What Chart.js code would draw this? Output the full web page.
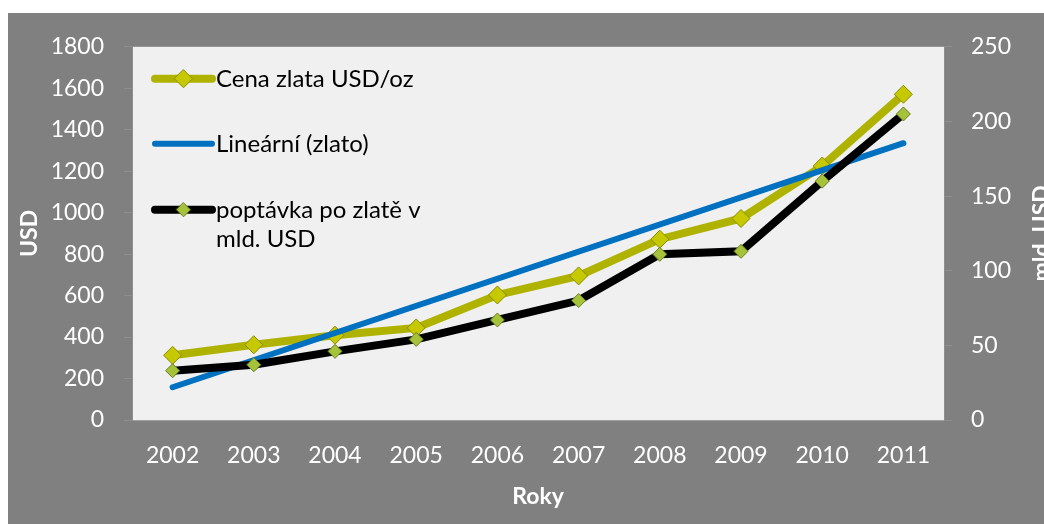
<!DOCTYPE html>
<html lang="cs">
<head>
<meta charset="UTF-8">
<title>Cena zlata</title>
<style>
  html, body { margin: 0; padding: 0; background: #fff; }
  .box {
    position: absolute;
    left: 8px;
    top: 13px;
    width: 1036px;
    height: 511px;
    background: #808080;
  }
</style>
</head>
<body>
<div class="box"><canvas id="chart" width="1036" height="511"></canvas></div>

<script src="https://cdn.jsdelivr.net/npm/chart.js"></script>
<script>
  // data
  const roky = ['2002', '2003', '2004', '2005', '2006', '2007', '2008', '2009', '2010', '2011'];
  const cenaZlata = [312, 363, 409, 444, 603, 695, 872, 972, 1225, 1571];   // USD/oz, levá osa
  const poptavka = [33, 37, 46, 54, 67, 80, 111, 113, 160, 205];             // mld. USD, pravá osa
  // lineární trend - jen krajní body, mezi nimi rovná čára
  const trendZlato = [158, null, null, null, null, null, null, null, null, 1335];
  const osaUsd = { min: 0, max: 1800, step: 200 };
  const osaMld = { min: 0, max: 250, step: 50 };

  const FONT = 'Lato, "Open Sans", sans-serif';
  Chart.defaults.font.family = FONT;
  Chart.defaults.font.size = 23;
  Chart.defaults.color = '#ffffff';

  // pozadí plochy grafu
  const pozadi = {
    id: 'pozadi',
    beforeDraw(chart) {
      const a = chart.chartArea;
      const ctx = chart.ctx;
      ctx.save();
      ctx.fillStyle = '#f0f0f0';
      ctx.fillRect(a.left, a.top, a.right - a.left, a.bottom - a.top);
      ctx.restore();
    }
  };

  // legenda uvnitř plochy + popisky os
  const legenda = {
    id: 'legenda',
    afterDatasetsDraw(chart) {
      const ctx = chart.ctx;
      const a = chart.chartArea;
      const x0 = a.left + 23, x1 = a.left + 80;
      const polozky = [
        { ds: 0, y: a.top + 32, text: ['Cena zlata USD/oz'] },
        { ds: 1, y: a.top + 97, text: ['Lineární (zlato)'] },
        { ds: 2, y: a.top + 163, text: ['poptávka po zlatě v', 'mld. USD'] }
      ];
      ctx.save();
      polozky.forEach(p => {
        const d = chart.data.datasets[p.ds];
        ctx.strokeStyle = d.borderColor;
        ctx.lineWidth = d.borderWidth;
        ctx.lineCap = 'round';
        ctx.beginPath();
        ctx.moveTo(x0, p.y);
        ctx.lineTo(x1, p.y);
        ctx.stroke();
        if (d.pointRadius > 0) {
          const r = d.pointRadius;
          const cx = (x0 + x1) / 2;
          ctx.beginPath();
          ctx.moveTo(cx, p.y - r);
          ctx.lineTo(cx + r, p.y);
          ctx.lineTo(cx, p.y + r);
          ctx.lineTo(cx - r, p.y);
          ctx.closePath();
          ctx.fillStyle = d.pointBackgroundColor;
          ctx.fill();
          ctx.lineWidth = d.pointBorderWidth;
          ctx.strokeStyle = d.pointBorderColor;
          ctx.stroke();
        }
        ctx.fillStyle = '#000000';
        ctx.font = '24px ' + FONT;
        ctx.textBaseline = 'middle';
        ctx.textAlign = 'left';
        p.text.forEach((t, i) => ctx.fillText(t, x1 + 4, p.y + i * 29));
      });
      ctx.restore();
    },
    afterDraw(chart) {
      const ctx = chart.ctx;
      const a = chart.chartArea;
      const midY = (a.top + a.bottom) / 2;
      ctx.save();
      ctx.fillStyle = '#ffffff';
      ctx.font = 'bold 23px ' + FONT;
      ctx.textAlign = 'center';
      ctx.textBaseline = 'middle';
      ctx.fillText('Roky', (a.left + a.right) / 2, 484);
      ctx.save();
      ctx.translate(22, midY);
      ctx.rotate(-Math.PI / 2);
      ctx.fillText('USD', 0, 0);
      ctx.restore();
      ctx.save();
      ctx.translate(1034, midY);
      ctx.rotate(-Math.PI / 2);
      ctx.fillText('mld. USD', 0, 0);
      ctx.restore();
      ctx.restore();
    }
  };

  const ctx = document.getElementById('chart');
  new Chart(ctx, {
    type: 'line',
    data: {
      labels: roky,
      datasets: [
        {
          label: 'Cena zlata USD/oz',
          data: cenaZlata,
          yAxisID: 'y',
          borderColor: '#afb300',
          borderWidth: 8,
          pointStyle: 'rectRot',
          pointRadius: 9,
          pointBackgroundColor: '#c6c800',
          pointBorderColor: '#8a8c00',
          pointBorderWidth: 1,
          order: 2
        },
        {
          label: 'Lineární (zlato)',
          data: trendZlato,
          yAxisID: 'y',
          borderColor: '#0070c0',
          borderWidth: 6,
          borderCapStyle: 'round',
          pointRadius: 0,
          spanGaps: true,
          order: 1
        },
        {
          label: 'poptávka po zlatě v mld. USD',
          data: poptavka,
          yAxisID: 'y1',
          borderColor: '#000000',
          borderWidth: 8,
          pointStyle: 'rectRot',
          pointRadius: 7,
          pointBackgroundColor: '#a6c23a',
          pointBorderColor: '#6b7f20',
          pointBorderWidth: 1,
          order: 0
        }
      ]
    },
    options: {
      responsive: false,
      animation: false,
      layout: { padding: { top: 32, left: 0, right: 0, bottom: 0 } },
      plugins: {
        legend: { display: false },
        tooltip: { enabled: false }
      },
      scales: {
        x: {
          offset: true,
          grid: { display: false, drawTicks: false },
          border: { color: '#a0a0a0' },
          ticks: { color: '#ffffff', padding: 22 },
          afterFit(s) { s.height = 104; }
        },
        y: {
          position: 'left',
          min: osaUsd.min,
          max: osaUsd.max,
          ticks: { stepSize: osaUsd.step, color: '#ffffff', padding: 20, callback: v => String(v) },
          grid: { drawOnChartArea: false, tickLength: 8, color: '#8e8e8e' },
          border: { color: '#8e8e8e' },
          afterFit(s) { s.width = 124; }
        },
        y1: {
          position: 'right',
          min: osaMld.min,
          max: osaMld.max,
          ticks: { stepSize: osaMld.step, color: '#ffffff', padding: 19, callback: v => String(v) },
          grid: { drawOnChartArea: false, tickLength: 8, color: '#8e8e8e' },
          border: { color: '#8e8e8e' },
          afterFit(s) { s.width = 100; }
        }
      }
    },
    plugins: [pozadi, legenda]
  });
</script>
</body>
</html>
